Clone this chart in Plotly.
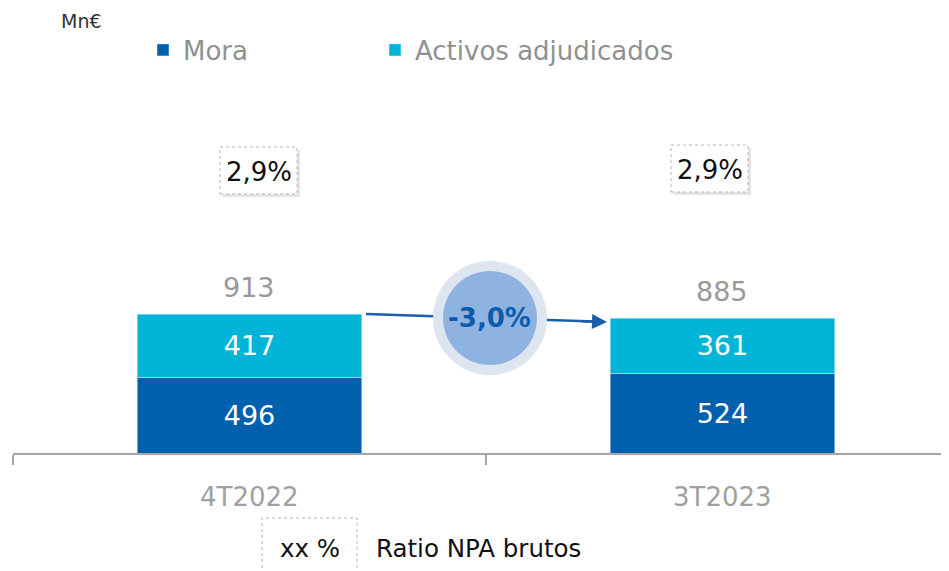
import plotly.graph_objects as go

categories = ["4T2022", "3T2023"]
mora = [496, 524]
activos = [417, 361]
totals = [913, 885]
npa_ratio = ["2,9%", "2,9%"]
variation = "-3,0%"
unit_label = "Mn€"
legend_note_box = "xx %"
legend_note_text = "Ratio NPA brutos"

C_MORA = "#0060ae"
C_ACT = "#00b5d8"
GRAY = "#999999"
FONT = "DejaVu Sans"

# figure geometry (page body has an 8px margin)
W, H = 941, 563
ML, MT, MB, MR = 5, 0, 118, 0
PW, PH = W - ML - MR, H - MT - MB


def px(x_ref):
    return (x_ref - 8 - ML) / PW


def py(y_ref):
    return 1 - (y_ref - 8 - MT) / PH


fig = go.Figure()
fig.add_trace(go.Bar(x=categories, y=mora, name="Mora", marker_color=C_MORA,
                     width=0.474, text=[str(v) for v in mora], textposition="inside",
                     insidetextanchor="middle", textangle=0, legend="legend",
                     textfont=dict(color="white", size=27, family=FONT)))
fig.add_trace(go.Bar(x=categories, y=activos, name="Activos adjudicados", marker_color=C_ACT,
                     width=0.474, text=[str(v) for v in activos], textposition="inside",
                     insidetextanchor="middle", textangle=0, legend="legend2",
                     textfont=dict(color="white", size=27, family=FONT)))

shapes = []
annotations = []


def note(x, y, text, size, color, xanchor="center", yanchor="middle", bold=False, **kw):
    d = dict(x=x, y=y, text=("<b>%s</b>" % text) if bold else text, showarrow=False,
             xanchor=xanchor, yanchor=yanchor,
             font=dict(size=size, color=color, family=FONT))
    d.update(kw)
    if "xref" not in d:
        d["xref"] = "paper"
    if "yref" not in d:
        d["yref"] = "paper"
    annotations.append(d)


# totals above stacks
for c, t in zip(categories, totals):
    annotations.append(dict(x=c, y=t, xref="x", yref="y", text=str(t), showarrow=False,
                            xanchor="center", yanchor="bottom", yshift=9,
                            font=dict(size=27, color=GRAY, family=FONT)))

# NPA ratio boxes
boxes = [(220, 297, 147, 194), (671, 748, 145, 192)]
for (x0, x1, y0, y1), r in zip(boxes, npa_ratio):
    shapes.append(dict(type="rect", xref="paper", yref="paper",
                       x0=px(x0 + 3), x1=px(x1 + 3), y0=py(y1 + 3), y1=py(y0 + 3),
                       fillcolor="#e4e4e4", line=dict(width=0), layer="above"))
    shapes.append(dict(type="rect", xref="paper", yref="paper",
                       x0=px(x0), x1=px(x1), y0=py(y1), y1=py(y0),
                       fillcolor="white", line=dict(width=1, color="#b5b5b5", dash="dot"),
                       layer="above"))
    note(px((x0 + x1) / 2 + 0.5), py((y0 + y1) / 2 + 1), r, 26, "#111111")

# arrow line (under the circle)
shapes.append(dict(type="line", xref="paper", yref="paper", x0=px(366), y0=py(314),
                   x1=px(596), y1=py(321.6), line=dict(color="#1a5fa8", width=2.5),
                   layer="above"))
# circle badge
cxp, cyp = 490, 318
shapes.append(dict(type="circle", xref="paper", yref="paper",
                   x0=px(cxp - 57), x1=px(cxp + 57), y0=py(cyp + 57), y1=py(cyp - 57),
                   fillcolor="#dde5f1", line=dict(width=0), layer="above"))
shapes.append(dict(type="circle", xref="paper", yref="paper",
                   x0=px(cxp - 47), x1=px(cxp + 47), y0=py(cyp + 47), y1=py(cyp - 47),
                   fillcolor="#8fb3e1", line=dict(width=0), layer="above"))
note(px(cxp), py(cyp), variation, 26, "#0b5cad", bold=True)
# arrowhead
annotations.append(dict(x=px(607), y=py(322), ax=-27, ay=-0.8, axref="pixel",
                        ayref="pixel", xref="paper", yref="paper", text="", showarrow=True,
                        arrowhead=2, arrowsize=1.2, arrowwidth=2.5, arrowcolor="#1a5fa8"))

# category labels
for c in categories:
    note(c, py(497), c, 26, "#a0a0a0", xref="x")

# unit label (kept inside the figure's top edge)
note(px(59), 1, unit_label, 19, "#333333", xanchor="left", yanchor="top")

# bottom note
shapes.append(dict(type="rect", xref="paper", yref="paper",
                   x0=px(262), x1=px(357), y0=py(575), y1=py(518),
                   fillcolor="white", line=dict(width=1, color="#b5b5b5", dash="dot")))
note(px(309.5), py(548), legend_note_box, 24.5, "#111111")
note(px(374), py(548), legend_note_text, 24.5, "#111111", xanchor="left")

leg_common = dict(orientation="h", yanchor="middle", xanchor="left",
                  font=dict(size=26, color="#8e9193", family=FONT),
                  bgcolor="rgba(0,0,0,0)")

fig.update_layout(
    width=W, height=H,
    margin=dict(l=ML, r=MR, t=MT, b=MB),
    barmode="stack",
    plot_bgcolor="white", paper_bgcolor="white",
    font=dict(family=FONT),
    hovermode=False,
    showlegend=True,
    legend=dict(x=px(143), y=py(50), **leg_common),
    legend2=dict(x=px(375), y=py(50), **leg_common),
    xaxis=dict(range=[-0.5, 1.479], showline=True, linecolor="#a6a6a6", linewidth=2,
               ticks="outside", tickson="boundaries", ticklen=10, tickcolor="#a6a6a6",
               tickwidth=2, showticklabels=False, showgrid=False, zeroline=False,
               fixedrange=True),
    yaxis=dict(range=[0, PH / (139 / 913)], visible=False, showgrid=False, zeroline=False),
    shapes=shapes,
    annotations=annotations,
)

fig.write_html("out.html")
